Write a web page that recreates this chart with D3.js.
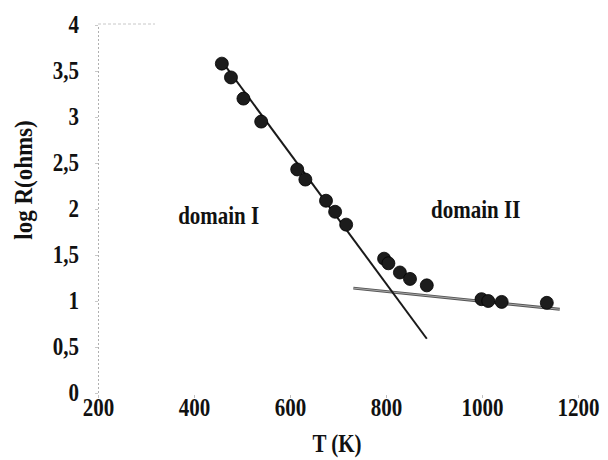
<!DOCTYPE html>
<html>
<head>
<meta charset="utf-8">
<script src="https://cdn.jsdelivr.net/npm/d3@7"></script>
<style>
  body { margin: 0; background: #fff; }
  text { font-family: "Liberation Serif", "Times New Roman", serif; font-weight: bold; fill: #111; }
</style>
</head>
<body>
<div id="chart"></div>
<script>
// Sizing
const svgWidth = 608,
  svgHeight = 460;

// Content
const xTicks = [200, 400, 600, 800, 1000, 1200];
const yTicks = [0, 0.5, 1, 1.5, 2, 2.5, 3, 3.5, 4];

// domain I measurements
const tempI = [458, 477, 503, 540, 615, 632, 675, 694, 717];
const logRI = [3.58, 3.43, 3.20, 2.95, 2.43, 2.32, 2.09, 1.97, 1.83];
// domain II measurements
const tempII = [796, 805, 829, 850, 885, 999, 1013, 1041, 1135];
const logRII = [1.46, 1.41, 1.31, 1.24, 1.17, 1.02, 1.00, 0.99, 0.98];

// fitted lines (end points)
const fitI = [[459, 3.60], [885, 0.59]];
const fitII = [[732, 1.14], [1162, 0.91]];

const labels = [
  { text: "domain I", T: 367, R: 1.84 },
  { text: "domain II", T: 894, R: 1.90 }
];

const textScale = "scale(1,1.15)";

var svg = d3.select("#chart")
  .append("svg")
  .attr("width", svgWidth)
  .attr("height", svgHeight);

var x = d3.scaleLinear()
  .domain([200, 1200])
  .range([98, 578]);

var y = d3.scaleLinear()
  .domain([0, 4])
  .range([393, 25]);

/** Y-Axis (faint dotted, like the scan) */
var yAxis = svg.append("g")
  .attr("transform", "translate(98,0)")
  .call(d3.axisLeft(y).tickValues(yTicks).tickSize(3).tickPadding(16)
    .tickFormat(d => String(d).replace(".", ",")));
yAxis.select(".domain")
  .attr("stroke", "#b0b0b0")
  .attr("stroke-dasharray", "2,2");
yAxis.selectAll("line").attr("stroke", "#c8c8c8");
yAxis.selectAll("text")
  .attr("font-size", 21)
  .attr("fill", "#111")
  .attr("transform", textScale);

// faint top edge
svg.append("line")
  .attr("x1", 98).attr("x2", 155)
  .attr("y1", 24).attr("y2", 24)
  .attr("stroke", "#c8c8c8")
  .attr("stroke-dasharray", "3,2");

/** X-Axis (only faint ticks visible) */
var xAxis = svg.append("g")
  .attr("transform", "translate(0,395)")
  .call(d3.axisBottom(x).tickValues(xTicks).tickSize(3).tickPadding(0)
    .tickFormat(d3.format("d")));
xAxis.select(".domain").remove();
xAxis.selectAll("line").attr("stroke", "#c0c0c0");
xAxis.selectAll("text")
  .attr("font-size", 21)
  .attr("fill", "#111")
  .attr("transform", textScale);

// axis titles
svg.append("text")
  .attr("text-anchor", "middle")
  .attr("font-size", 23)
  .attr("transform", "translate(32,180) rotate(-90) scale(1,1.1)")
  .text("log R(ohms)");

svg.append("text")
  .attr("text-anchor", "middle")
  .attr("font-size", 21)
  .attr("transform", "translate(337,452) " + textScale)
  .text("T (K)");

/** fitted lines */
var line = d3.line().x(d => x(d[0])).y(d => y(d[1]));
svg.append("path")
  .attr("d", line(fitII))
  .attr("fill", "none")
  .attr("stroke", "#555")
  .attr("stroke-width", 3);
svg.append("path")
  .attr("d", line(fitII))
  .attr("fill", "none")
  .attr("stroke", "#bbb")
  .attr("stroke-width", 0.8);
svg.append("path")
  .attr("d", line(fitI))
  .attr("fill", "none")
  .attr("stroke", "#1a1a1a")
  .attr("stroke-width", 2);

/** points */
var points = tempI.map((t, i) => [t, logRI[i]])
  .concat(tempII.map((t, i) => [t, logRII[i]]));
svg.append("g")
  .selectAll("circle")
  .data(points)
  .enter().append("circle")
  .attr("cx", d => x(d[0]))
  .attr("cy", d => y(d[1]))
  .attr("r", 6.5)
  .attr("fill", "#1c1c1c")
  .attr("stroke", "#000")
  .attr("stroke-width", 0.8);

/** domain labels */
svg.append("g")
  .selectAll("text")
  .data(labels)
  .enter().append("text")
  .attr("font-size", 21)
  .attr("transform", d => "translate(" + x(d.T) + "," + y(d.R) + ") " + textScale)
  .text(d => d.text);
</script>
</body>
</html>
